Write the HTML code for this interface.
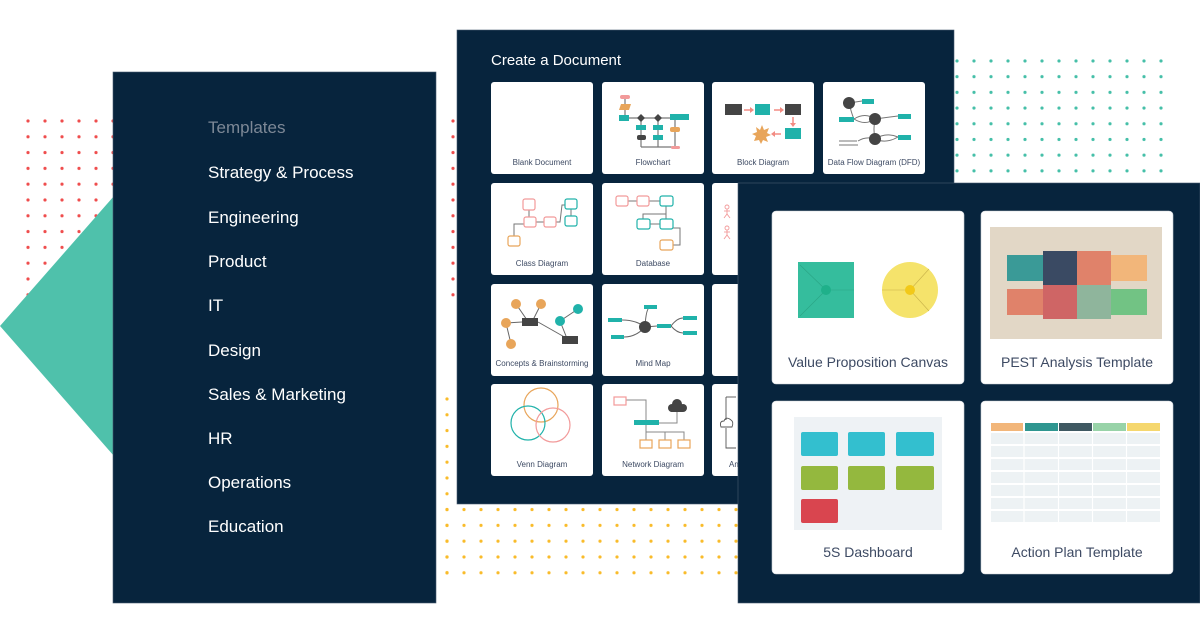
<!DOCTYPE html>
<html><head><meta charset="utf-8"><style>
html,body{margin:0;padding:0;background:#fff;width:1200px;height:631px;overflow:hidden}
svg{display:block}
text{font-family:"Liberation Sans",sans-serif}
</style></head><body>
<svg width="1200" height="631" viewBox="0 0 1200 631" xmlns="http://www.w3.org/2000/svg">
<defs>
<pattern id="red" x="26" y="119" width="17" height="15.8" patternUnits="userSpaceOnUse"><circle cx="2" cy="2" r="1.6" fill="#ef4d4d"/></pattern>
<pattern id="org" x="445" y="397" width="17" height="15.8" patternUnits="userSpaceOnUse"><circle cx="2" cy="2" r="1.6" fill="#f9bb2a"/></pattern>
<pattern id="grn" x="955" y="59" width="17" height="15.7" patternUnits="userSpaceOnUse"><circle cx="2" cy="2" r="1.6" fill="#45bfa8"/></pattern>
</defs>
<rect x="24" y="117" width="102" height="180" fill="url(#red)"/>
<rect x="447" y="117" width="8" height="180" fill="url(#red)"/>
<rect x="443" y="395" width="8" height="182" fill="url(#org)"/>
<rect x="443" y="504" width="298" height="72" fill="url(#org)"/>
<rect x="953" y="57" width="214" height="118" fill="url(#grn)"/>
<polygon points="0,326 114,196 114,456" fill="#4fc1ab"/>
<rect x="113" y="72" width="323" height="531" fill="#07243d" stroke="#4a5d70" stroke-width="0.6"/>
<g font-size="17" fill="#fff">
<text x="208" y="133" fill="#7d8896">Templates</text>
<text x="208" y="178">Strategy &amp; Process</text>
<text x="208" y="223">Engineering</text>
<text x="208" y="267">Product</text>
<text x="208" y="311">IT</text>
<text x="208" y="356">Design</text>
<text x="208" y="400">Sales &amp; Marketing</text>
<text x="208" y="444">HR</text>
<text x="208" y="488">Operations</text>
<text x="208" y="532">Education</text>
</g>
<rect x="457" y="30" width="497" height="474" fill="#07243d" stroke="#4a5d70" stroke-width="0.6"/>
<text x="491" y="65" font-size="15" fill="#fff">Create a Document</text>
<g fill="#fff">
<rect x="491" y="82" width="102" height="92" rx="3"/><rect x="602" y="82" width="102" height="92" rx="3"/><rect x="712" y="82" width="102" height="92" rx="3"/><rect x="823" y="82" width="102" height="92" rx="3"/>
<rect x="491" y="183" width="102" height="92" rx="3"/><rect x="602" y="183" width="102" height="92" rx="3"/><rect x="712" y="183" width="102" height="92" rx="3"/><rect x="823" y="183" width="102" height="92" rx="3"/>
<rect x="491" y="284" width="102" height="92" rx="3"/><rect x="602" y="284" width="102" height="92" rx="3"/><rect x="712" y="284" width="102" height="92" rx="3"/>
<rect x="491" y="384" width="102" height="92" rx="3"/><rect x="602" y="384" width="102" height="92" rx="3"/><rect x="712" y="384" width="102" height="92" rx="3"/>
</g>
<g font-size="8" fill="#3d4a63" text-anchor="middle">
<text x="542" y="165">Blank Document</text><text x="653" y="165">Flowchart</text><text x="763" y="165">Block Diagram</text><text x="874" y="165">Data Flow Diagram (DFD)</text>
<text x="542" y="266">Class Diagram</text><text x="653" y="266">Database</text>
<text x="542" y="366">Concepts &amp; Brainstorming</text><text x="653" y="366">Mind Map</text>
<text x="542" y="467">Venn Diagram</text><text x="653" y="467">Network Diagram</text><text x="735" y="467">Am</text>
</g>
<g stroke="#777" stroke-width="1.2" fill="none">
<line x1="625" y1="99" x2="625" y2="116"/><line x1="629" y1="118" x2="689" y2="118"/>
<line x1="641" y1="118" x2="641" y2="147"/><line x1="658" y1="118" x2="658" y2="147"/><line x1="675" y1="120" x2="675" y2="147"/><line x1="641" y1="147" x2="675" y2="147"/>
</g>
<rect x="620" y="95" width="10" height="4" rx="2" fill="#f29a9a"/>
<polygon points="621,104 631,104 629,110 619,110" fill="#e8a55a"/>
<rect x="619" y="115" width="10" height="6" fill="#20b2aa"/>
<polygon points="641,114 645,118 641,122 637,118" fill="#444"/><polygon points="658,114 662,118 658,122 654,118" fill="#444"/>
<rect x="670" y="114" width="19" height="6" fill="#20b2aa"/>
<rect x="636" y="125" width="10" height="5" fill="#20b2aa"/><rect x="637" y="135" width="9" height="5" rx="2" fill="#444"/>
<rect x="653" y="125" width="10" height="5" fill="#20b2aa"/><rect x="653" y="135" width="10" height="5" fill="#20b2aa"/>
<rect x="670" y="127" width="10" height="5" rx="2" fill="#e8a55a"/><rect x="671" y="146" width="9" height="3" rx="1.5" fill="#f29a9a"/>
<rect x="725" y="104" width="17" height="11" fill="#444"/><rect x="755" y="104" width="15" height="11" fill="#20b2aa"/><rect x="785" y="104" width="16" height="11" fill="#444"/><rect x="785" y="128" width="16" height="11" fill="#20b2aa"/>
<g stroke="#f28b82" stroke-width="1.5" fill="#f28b82"><line x1="744" y1="110" x2="750" y2="110"/><line x1="774" y1="110" x2="780" y2="110"/><line x1="793" y1="117" x2="793" y2="123"/><line x1="775" y1="134" x2="781" y2="134"/></g>
<g fill="#f28b82"><polygon points="750,107 754,110 750,113"/><polygon points="780,107 784,110 780,113"/><polygon points="790,123 796,123 793,127"/><polygon points="775,131 771,134 775,137"/></g>
<polygon points="762,125 764,130 769,128 767,133 771,135 766,137 768,142 763,140 761,144 759,140 754,141 756,136 752,134 757,132 756,127 760,130" fill="#e8a55a"/>
<g stroke="#777" stroke-width="1" fill="none"><path d="M849,103 L862,101"/><path d="M849,103 Q852,115 854,119 Q865,112 875,119 Q865,126 854,119"/><path d="M875,119 L898,116"/><path d="M875,119 Q873,130 875,139"/><path d="M875,139 Q886,132 898,137 Q886,144 875,139"/><path d="M858,141 Q866,136 875,139"/><line x1="839" y1="141" x2="857" y2="141"/><line x1="839" y1="145" x2="858" y2="145"/></g>
<circle cx="849" cy="103" r="6" fill="#444"/><circle cx="875" cy="119" r="6" fill="#444"/><circle cx="875" cy="139" r="6" fill="#444"/>
<rect x="862" y="99" width="12" height="5" fill="#20b2aa"/><rect x="839" y="117" width="15" height="5" fill="#20b2aa"/><rect x="898" y="114" width="13" height="5" fill="#20b2aa"/><rect x="898" y="135" width="13" height="5" fill="#20b2aa"/>
<g stroke="#777" stroke-width="1" fill="none"><line x1="529" y1="210" x2="529" y2="217"/><line x1="536" y1="222" x2="544" y2="222"/><line x1="571" y1="209" x2="571" y2="216"/><path d="M556,222 L560,222 L562,205 L565,205"/><path d="M524,224 L514,224 L514,236"/></g>
<g fill="#fff" stroke-width="1.2"><rect x="523" y="199" width="12" height="11" rx="2" stroke="#f29a9a"/><rect x="524" y="217" width="12" height="10" rx="2" stroke="#f29a9a"/><rect x="544" y="217" width="12" height="10" rx="2" stroke="#f29a9a"/><rect x="565" y="199" width="12" height="10" rx="2" stroke="#20b2aa"/><rect x="565" y="216" width="12" height="10" rx="2" stroke="#20b2aa"/><rect x="508" y="236" width="12" height="10" rx="2" stroke="#e8a55a"/></g>
<g stroke="#777" stroke-width="1" fill="none"><line x1="628" y1="201" x2="637" y2="201"/><line x1="649" y1="201" x2="660" y2="201"/><path d="M666,206 L666,214 L643,214 L643,219"/><line x1="666" y1="206" x2="666" y2="219"/><line x1="650" y1="224" x2="660" y2="224"/><path d="M673,228 L680,228 L680,245 L673,245"/></g>
<g fill="#fff" stroke-width="1.2"><rect x="616" y="196" width="12" height="10" rx="2" stroke="#f29a9a"/><rect x="637" y="196" width="12" height="10" rx="2" stroke="#f29a9a"/><rect x="660" y="196" width="13" height="10" rx="2" stroke="#20b2aa"/><rect x="637" y="219" width="13" height="10" rx="2" stroke="#20b2aa"/><rect x="660" y="219" width="13" height="10" rx="2" stroke="#20b2aa"/><rect x="660" y="240" width="13" height="10" rx="2" stroke="#e8a55a"/></g>
<g stroke="#f29a9a" stroke-width="0.9" fill="none"><circle cx="727" cy="207" r="2"/><line x1="727" y1="209" x2="727" y2="214"/><line x1="724" y1="211" x2="730" y2="211"/><path d="M724,218 L727,214 L730,218"/><circle cx="727" cy="228" r="2"/><line x1="727" y1="230" x2="727" y2="235"/><line x1="724" y1="232" x2="730" y2="232"/><path d="M724,239 L727,235 L730,239"/></g>
<g stroke="#666" stroke-width="1"><line x1="516" y1="304" x2="527" y2="320"/><line x1="541" y1="304" x2="533" y2="320"/><line x1="506" y1="323" x2="522" y2="322"/><line x1="506" y1="323" x2="511" y2="344"/><line x1="538" y1="322" x2="568" y2="339"/><line x1="560" y1="321" x2="566" y2="336"/><line x1="560" y1="321" x2="578" y2="309"/></g>
<g fill="#e8a55a"><circle cx="516" cy="304" r="5"/><circle cx="541" cy="304" r="5"/><circle cx="506" cy="323" r="5"/><circle cx="511" cy="344" r="5"/></g>
<g fill="#20b2aa"><circle cx="560" cy="321" r="5"/><circle cx="578" cy="309" r="5"/></g>
<rect x="522" y="318" width="16" height="8" fill="#444"/><rect x="562" y="336" width="16" height="8" fill="#444"/>
<g stroke="#666" stroke-width="1" fill="none"><path d="M622,320 Q636,320 645,327"/><path d="M624,337 Q636,337 645,327"/><path d="M645,327 Q646,308 650,307"/><line x1="645" y1="327" x2="657" y2="326"/><path d="M671,326 Q677,318 683,318"/><path d="M671,326 Q677,333 683,333"/></g>
<circle cx="645" cy="327" r="6" fill="#444"/>
<g fill="#20b2aa"><rect x="608" y="318" width="14" height="4"/><rect x="611" y="335" width="13" height="4"/><rect x="644" y="305" width="13" height="4"/><rect x="657" y="324" width="14" height="4"/><rect x="683" y="316" width="14" height="4"/><rect x="683" y="331" width="14" height="4"/></g>
<g fill="none" stroke-width="1.2"><circle cx="541" cy="405" r="17" stroke="#e8a55a"/><circle cx="528" cy="423" r="17" stroke="#20b2aa"/><circle cx="553" cy="425" r="17" stroke="#f29a9a"/></g>
<g stroke="#888" stroke-width="1" fill="none"><path d="M626,400 L646,400 L646,420"/><path d="M659,423 L677,423 L677,410"/><path d="M646,425 L646,442"/><path d="M646,432 L684,432 L684,442"/><line x1="665" y1="432" x2="665" y2="442"/></g>
<rect x="614" y="397" width="12" height="8" fill="#fff" stroke="#f29a9a" stroke-width="1.2"/>
<g fill="#444"><circle cx="672" cy="408" r="4"/><circle cx="677" cy="404" r="5"/><circle cx="683" cy="408" r="4"/><rect x="670" y="407" width="14" height="5" rx="2"/></g>
<rect x="634" y="420" width="25" height="5" fill="#20b2aa"/>
<g fill="#fff" stroke="#e8a55a" stroke-width="1.2"><rect x="640" y="440" width="12" height="8"/><rect x="659" y="440" width="12" height="8"/><rect x="678" y="440" width="12" height="8"/></g>
<g stroke="#555" stroke-width="0.9" fill="none"><path d="M726,397 L726,420"/><path d="M726,428 L726,448 L736,448"/><path d="M726,397 L736,397"/><path d="M721,427 Q719,421 724,421 Q726,416 731,420 Q734,422 732,427 Z"/></g>
<rect x="738" y="183" width="462" height="420" fill="#07243d" stroke="#4a5d70" stroke-width="0.6"/>
<g fill="#fff" stroke="#c9cfd6" stroke-width="0.6">
<rect x="772" y="211" width="192" height="173" rx="4"/><rect x="981" y="211" width="192" height="173" rx="4"/>
<rect x="772" y="401" width="192" height="173" rx="4"/><rect x="981" y="401" width="192" height="173" rx="4"/>
</g>
<g font-size="14" fill="#3d4a63" text-anchor="middle">
<text x="868" y="367">Value Proposition Canvas</text><text x="1077" y="367">PEST Analysis Template</text>
<text x="868" y="557">5S Dashboard</text><text x="1077" y="557">Action Plan Template</text>
</g>
<rect x="798" y="262" width="56" height="56" fill="#35bd9d"/>
<g stroke="#2aa585" stroke-width="0.6"><line x1="826" y1="290" x2="854" y2="290"/><line x1="826" y1="290" x2="800" y2="265"/><line x1="826" y1="290" x2="800" y2="316"/></g>
<circle cx="826" cy="290" r="5" fill="#1fb08a"/>
<circle cx="910" cy="290" r="28" fill="#f5e36b"/>
<g stroke="#c9b24a" stroke-width="0.6"><line x1="910" y1="290" x2="882" y2="290"/><line x1="910" y1="290" x2="929" y2="269"/><line x1="910" y1="290" x2="929" y2="311"/></g>
<circle cx="910" cy="290" r="5" fill="#f2c918"/>
<rect x="990" y="227" width="172" height="112" fill="#e2d7c6"/>
<rect x="1007" y="255" width="36" height="26" fill="#3a9a97"/><rect x="1111" y="255" width="36" height="26" fill="#f2b67a"/>
<rect x="1007" y="289" width="36" height="26" fill="#e0826a"/><rect x="1111" y="289" width="36" height="26" fill="#72c384"/>
<rect x="1043" y="251" width="34" height="34" fill="#3a4a63"/><rect x="1077" y="251" width="34" height="34" fill="#e0826a"/>
<rect x="1043" y="285" width="34" height="34" fill="#cf6565"/><rect x="1077" y="285" width="34" height="34" fill="#8fb59c"/>
<rect x="794" y="417" width="148" height="113" fill="#eef2f5"/>
<g fill="#33bfcf"><rect x="801" y="432" width="37" height="24" rx="2"/><rect x="848" y="432" width="37" height="24" rx="2"/><rect x="896" y="432" width="38" height="24" rx="2"/></g>
<g fill="#94b83e"><rect x="801" y="466" width="37" height="24" rx="2"/><rect x="848" y="466" width="37" height="24" rx="2"/><rect x="896" y="466" width="38" height="24" rx="2"/></g>
<rect x="801" y="499" width="37" height="24" rx="2" fill="#d9454f"/>
<rect x="991" y="423" width="32" height="8" fill="#f2b67a"/><rect x="1025" y="423" width="33" height="8" fill="#2f9690"/><rect x="1059" y="423" width="33" height="8" fill="#3f5962"/><rect x="1093" y="423" width="33" height="8" fill="#98d3a8"/><rect x="1127" y="423" width="33" height="8" fill="#f5d76e"/>
<g fill="#edf2f4">
<rect x="991" y="433" width="169" height="11"/><rect x="991" y="446" width="169" height="11"/><rect x="991" y="459" width="169" height="11"/><rect x="991" y="472" width="169" height="11"/><rect x="991" y="485" width="169" height="11"/><rect x="991" y="498" width="169" height="11"/><rect x="991" y="511" width="169" height="11"/>
</g>
<g stroke="#fff" stroke-width="1.2"><line x1="1024" y1="433" x2="1024" y2="522"/><line x1="1058.5" y1="433" x2="1058.5" y2="522"/><line x1="1092.5" y1="433" x2="1092.5" y2="522"/><line x1="1126.5" y1="433" x2="1126.5" y2="522"/></g>
</svg>
</body></html>
